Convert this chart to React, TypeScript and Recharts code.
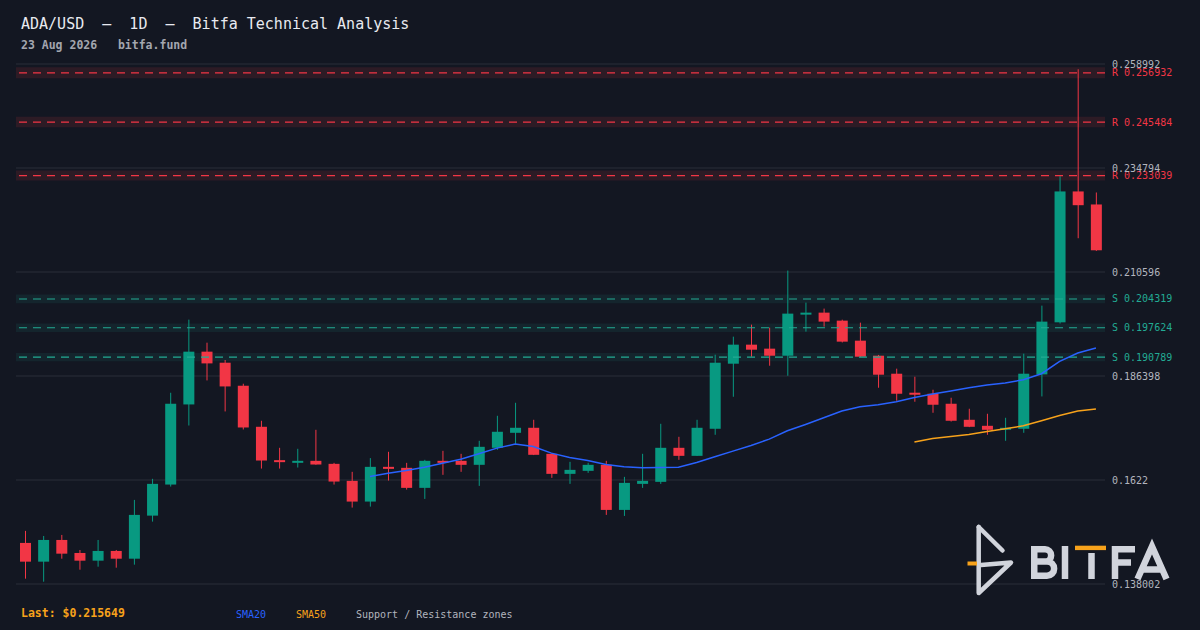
import React from 'react'
import {
  ComposedChart, Bar, Line, XAxis, YAxis, CartesianGrid,
  ReferenceArea, ReferenceLine,
} from 'recharts'

const BG = '#131722'
const UP = '#089981'
const DOWN = '#f23645'
const SUP = '#22ab94'
const GRID = '#2a2e39'
const AXIS_TEXT = '#b2b5be'
const BLUE = '#2962ff'
const ORANGE = '#f7a21b'
const MONO = '"DejaVu Sans Mono", "Liberation Mono", monospace'

// daily candles, oldest first
const opens = [
  0.14756, 0.14320, 0.14825, 0.14522, 0.14343, 0.14569, 0.14389, 0.15391, 0.16114, 0.17978,
  0.19206, 0.18949, 0.18413, 0.17458, 0.16682, 0.16627, 0.16666, 0.16596, 0.16200, 0.15718,
  0.16526, 0.16503, 0.16037, 0.16666, 0.16666, 0.16573, 0.16969, 0.17318, 0.17435, 0.16829,
  0.16363, 0.16433, 0.16573, 0.15524, 0.16130, 0.16177, 0.16969, 0.16782, 0.17412, 0.18926,
  0.19369, 0.19276, 0.19112, 0.20068, 0.20114, 0.19928, 0.19462, 0.19112, 0.18693, 0.18251,
  0.18227, 0.17994, 0.17621, 0.17481, 0.17388, 0.17412, 0.18677, 0.19888, 0.22934, 0.22631,
]
const highs = [
  0.15036, 0.14918, 0.14942, 0.14592, 0.14825, 0.14592, 0.15757, 0.16247, 0.18250, 0.19951,
  0.19415, 0.19012, 0.18460, 0.17598, 0.16969, 0.16946, 0.17388, 0.16619, 0.16410, 0.16729,
  0.16876, 0.16619, 0.16689, 0.16899, 0.16829, 0.17132, 0.17714, 0.18017, 0.17621, 0.16835,
  0.16643, 0.16620, 0.16666, 0.16293, 0.16829, 0.17528, 0.17225, 0.17621, 0.19136, 0.19555,
  0.19835, 0.19765, 0.21093, 0.20347, 0.20208, 0.19950, 0.19881, 0.19130, 0.18810, 0.18623,
  0.18320, 0.18134, 0.17878, 0.17761, 0.17668, 0.19159, 0.20277, 0.23290, 0.25776, 0.22910,
]
const lows = [
  0.13924, 0.13854, 0.14389, 0.14133, 0.14203, 0.14180, 0.14250, 0.15252, 0.16067, 0.17488,
  0.18537, 0.17815, 0.17395, 0.16486, 0.16486, 0.16510, 0.16575, 0.16114, 0.15578, 0.15601,
  0.16207, 0.15997, 0.15780, 0.16340, 0.16410, 0.16083, 0.16922, 0.17062, 0.16800, 0.16270,
  0.16130, 0.16386, 0.15408, 0.15384, 0.16037, 0.16130, 0.16689, 0.16780, 0.17272, 0.18157,
  0.19089, 0.18879, 0.18646, 0.19672, 0.19788, 0.19420, 0.19080, 0.18367, 0.18064, 0.18041,
  0.17784, 0.17580, 0.17450, 0.17272, 0.17132, 0.17318, 0.18164, 0.19860, 0.21845, 0.21550,
]
const closes = [
  0.14320, 0.14825, 0.14506, 0.14343, 0.14569, 0.14389, 0.15408, 0.16130, 0.17994, 0.19206,
  0.18933, 0.18397, 0.17442, 0.16673, 0.16650, 0.16666, 0.16580, 0.16184, 0.15718, 0.16526,
  0.16479, 0.16037, 0.16666, 0.16619, 0.16573, 0.16992, 0.17342, 0.17435, 0.16806, 0.16363,
  0.16456, 0.16573, 0.15524, 0.16153, 0.16200, 0.16969, 0.16782, 0.17435, 0.18949, 0.19369,
  0.19252, 0.19112, 0.20091, 0.20114, 0.19905, 0.19439, 0.19089, 0.18670, 0.18227, 0.18204,
  0.17971, 0.17598, 0.17458, 0.17388, 0.17435, 0.18693, 0.19905, 0.22934, 0.22614, 0.215649,
]
const sma20 = [
  null, null, null, null, null, null, null, null, null, null,
  null, null, null, null, null, null, null, null, null, 0.16300,
  0.16379, 0.16440, 0.16519, 0.16612, 0.16705, 0.16829, 0.16962, 0.17055, 0.16999, 0.16845,
  0.16743, 0.16673, 0.16580, 0.16526, 0.16503, 0.16510, 0.16519, 0.16626, 0.16759, 0.16892,
  0.17022, 0.17172, 0.17365, 0.17512, 0.17668, 0.17824, 0.17924, 0.17971, 0.18041, 0.18141,
  0.18220, 0.18290, 0.18367, 0.18430, 0.18476, 0.18553, 0.18693, 0.18980, 0.19175, 0.19292,
]
const sma50 = [
  null, null, null, null, null, null, null, null, null, null,
  null, null, null, null, null, null, null, null, null, null,
  null, null, null, null, null, null, null, null, null, null,
  null, null, null, null, null, null, null, null, null, null,
  null, null, null, null, null, null, null, null, null, 0.17102,
  0.17185, 0.17232, 0.17279, 0.17349, 0.17412, 0.17481, 0.17598, 0.17721, 0.17824, 0.17870,
]

const resistances = [0.256932, 0.245484, 0.233039]
const supports = [0.204319, 0.197624, 0.190789]
const ZONE_PCT = 0.005

const yTicks = [0.138002, 0.1622, 0.186398, 0.210596, 0.234794, 0.258992]
const yTickLabels = ['0.138002', '0.1622', '0.186398', '0.210596', '0.234794', '0.258992']

const lastPrice = '0.215649'

const data = opens.map((o, i) => ({
  i,
  open: o,
  high: highs[i],
  low: lows[i],
  close: closes[i],
  range: [lows[i], highs[i]],
  sma20: sma20[i],
  sma50: sma50[i],
}))

function Candle(props: any) {
  const { x, y, width, height, payload } = props
  if (!payload) return null
  const { open, close, high, low } = payload
  const k = high > low ? height / (high - low) : 0
  const py = (v: number) => y + (high - v) * k
  const color = close >= open ? UP : DOWN
  const top = py(Math.max(open, close))
  const bot = py(Math.min(open, close))
  const cx = x + width / 2
  return (
    <g>
      <line x1={cx} x2={cx} y1={y} y2={y + height} stroke={color} strokeWidth={1} />
      <rect x={x} y={top} width={width} height={Math.max(bot - top, 2)} fill={color} />
    </g>
  )
}

function AxisTick({ x, y, index }: any) {
  return (
    <text x={x} y={y} dy={3.5} fill={AXIS_TEXT} fontSize={10} fontFamily={MONO} textAnchor="start">
      {yTickLabels[index]}
    </text>
  )
}

function levelLabel(kind: 'R' | 'S', level: number) {
  const color = kind === 'R' ? DOWN : SUP
  return (p: any) => {
    const vb = p.viewBox
    return (
      <text x={vb.x + vb.width + 7} y={vb.y} dy={3.5} fill={color} fontSize={10} fontFamily={MONO}>
        {`${kind} ${level}`}
      </text>
    )
  }
}

function Logo() {
  const c = '#d1d4dc'
  const sw = 6.5
  return (
    <g fill="none" stroke={c} strokeWidth={sw}>
      {/* mark */}
      <g strokeWidth={4.5} strokeLinecap="round" strokeLinejoin="round">
        <path d="M978.7,527 L1002.5,550.5" />
        <path d="M978.7,527 L978.7,593 L1011,562.5 L981,565" />
      </g>
      <line x1={967.5} x2={977} y1={563.5} y2={563.5} stroke={ORANGE} strokeWidth={4} />
      {/* B */}
      <path d="M1034.25,546 V579 M1034.25,549.25 H1045 A6.1,6.1 0 0 1 1045,561.5 H1034.25 M1034.25,561.5 H1047 A7.1,7.1 0 0 1 1047,575.75 H1034.25" />
      {/* I */}
      <line x1={1065} x2={1065} y1={546} y2={579} />
      {/* T */}
      <rect x={1075} y={545.7} width={31} height={4.4} fill={ORANGE} stroke="none" />
      <line x1={1091.5} x2={1091.5} y1={553} y2={579} />
      {/* F */}
      <path d="M1115,579 V549.25 H1135 M1115,562.5 H1131" />
      {/* A */}
      <path d="M1137.5,579 L1152,546.5 L1166.5,579 M1142.5,569.5 H1161.5" />
    </g>
  )
}

export default function App() {
  return (
    <div style={{ position: 'relative', width: 1200, height: 630, background: BG, overflow: 'hidden' }}>
      <style>{'body{margin:0;background:#131722}'}</style>
      <ComposedChart
        width={1200}
        height={630}
        data={data}
        margin={{ top: 64, right: 0, bottom: 46, left: 16 }}
      >
        <CartesianGrid stroke={GRID} vertical={false} />
        <XAxis dataKey="i" type="category" hide />
        <YAxis
          orientation="right"
          type="number"
          domain={[yTicks[0], yTicks[yTicks.length - 1]]}
          ticks={yTicks}
          interval={0}
          allowDataOverflow
          axisLine={false}
          tickLine={false}
          tickSize={5}
          tickMargin={2}
          width={95}
          tick={<AxisTick />}
        />
        {resistances.map((lv) => (
          <ReferenceArea key={`ra${lv}`} y1={lv * (1 - ZONE_PCT)} y2={lv * (1 + ZONE_PCT)} fill={DOWN} fillOpacity={0.12} stroke="none" />
        ))}
        {supports.map((lv) => (
          <ReferenceArea key={`sa${lv}`} y1={lv * (1 - ZONE_PCT)} y2={lv * (1 + ZONE_PCT)} fill={SUP} fillOpacity={0.1} stroke="none" />
        ))}
        {resistances.map((lv) => (
          <ReferenceLine key={`rl${lv}`} y={lv} stroke={DOWN} strokeWidth={1.2} strokeDasharray="8 6" label={levelLabel('R', lv)} />
        ))}
        {supports.map((lv) => (
          <ReferenceLine key={`sl${lv}`} y={lv} stroke={SUP} strokeWidth={1.2} strokeDasharray="8 6" label={levelLabel('S', lv)} />
        ))}
        <Line dataKey="sma20" type="linear" stroke={BLUE} strokeWidth={1.5} dot={false} activeDot={false} isAnimationActive={false} />
        <Line dataKey="sma50" type="linear" stroke={ORANGE} strokeWidth={1.5} dot={false} activeDot={false} isAnimationActive={false} />
        <Bar dataKey="range" barSize={11} shape={<Candle />} isAnimationActive={false} />
      </ComposedChart>
      <svg width={1200} height={630} style={{ position: 'absolute', left: 0, top: 0, pointerEvents: 'none' }}>
        <text x={21} y={29} fill="#e8eaf0" fontSize={15} fontFamily={MONO} style={{ whiteSpace: 'pre' }}>
          {'ADA/USD  –  1D  –  Bitfa Technical Analysis'}
        </text>
        <text x={21} y={49} fill="#a3a6af" fontSize={11.5} fontWeight="bold" fontFamily={MONO} style={{ whiteSpace: 'pre' }}>
          {'23 Aug 2026   bitfa.fund'}
        </text>
        <text x={21} y={617} fill={ORANGE} fontSize={11.5} fontWeight="bold" fontFamily={MONO}>
          {`Last: $${lastPrice}`}
        </text>
        <text x={236} y={618} fill={BLUE} fontSize={10} fontFamily={MONO}>SMA20</text>
        <text x={296} y={618} fill={ORANGE} fontSize={10} fontFamily={MONO}>SMA50</text>
        <text x={356} y={618} fill={AXIS_TEXT} fontSize={10} fontFamily={MONO}>Support / Resistance zones</text>
        <Logo />
      </svg>
    </div>
  )
}
